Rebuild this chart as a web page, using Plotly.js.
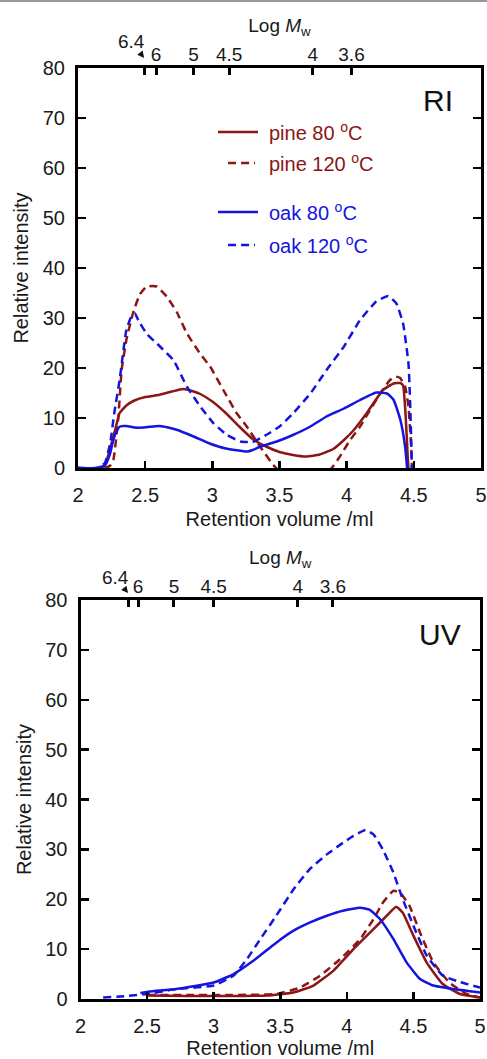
<!DOCTYPE html>
<html><head><meta charset="utf-8">
<script src="https://cdn.plot.ly/plotly-3.0.1.min.js"></script>
<style>html,body{margin:0;padding:0;background:#fff;}#chart{width:487px;height:1059px;}</style>
</head><body><div id="chart"></div>
<script>
// ---------- RI panel data ----------
const riPine80X = [2.0,2.15,2.2,2.24,2.28,2.31,2.36,2.42,2.5,2.6,2.7,2.78,2.85,2.91,3.0,3.1,3.2,3.3,3.4,3.5,3.6,3.7,3.8,3.9,3.98,4.05,4.15,4.27,4.35,4.4,4.42,4.44,4.455,4.46];
const riPine80Y = [0,0,0.5,4,8,11,12.5,13.5,14.2,14.6,15.3,15.8,15.4,14.8,13.3,11,8.3,5.8,4.3,3.2,2.6,2.3,2.7,3.8,5.6,7.5,11,15.6,16.9,17,16.5,10,2,0];

const riPine120X = [2.0,2.2,2.24,2.263,2.3,2.325,2.363,2.413,2.46,2.51,2.586,2.66,2.735,2.809,2.908,2.983,3.082,3.18,3.256,3.355,3.454,3.55,3.7,3.85,3.889,3.95,4.025,4.1,4.174,4.249,4.323,4.36,4.398,4.435,4.46,4.48,4.487];
const riPine120Y = [0,0,0.5,1.6,10,19.7,26,31.3,34.7,36.3,36.3,34.3,31.2,27,22.9,20.3,15.6,11,8.3,4.3,0.6,-2,-3,-1,0,2.3,5.6,8.3,11.6,14.9,17.6,18.3,18,16.3,12.3,4.3,0];

const riOak80X = [2.0,2.13,2.2,2.24,2.263,2.29,2.313,2.36,2.42,2.49,2.56,2.61,2.67,2.74,2.86,2.98,3.1,3.26,3.3,3.36,3.48,3.6,3.73,3.85,3.98,4.1,4.22,4.3,4.35,4.4,4.435,4.45];
const riOak80Y = [0,0,0.5,3,5.6,7.5,8.3,8.4,8.1,8.1,8.3,8.4,8.1,7.6,6.3,4.9,3.9,3.3,3.6,4.3,5.3,6.6,8.3,10.3,11.9,13.6,15.1,14.9,13.6,9.6,4.3,0];

const riOak120X = [2.0,2.15,2.2,2.24,2.27,2.31,2.36,2.4,2.424,2.45,2.51,2.61,2.71,2.81,2.91,3.01,3.11,3.21,3.3,3.4,3.5,3.6,3.73,3.85,3.98,4.1,4.22,4.31,4.37,4.42,4.46,4.47,4.48,4.485];
const riOak120Y = [0,0,1,5,11,17.6,27.6,30.5,30.9,29.5,26.9,24.3,21.6,16.3,12.3,8.9,6.6,5.3,5.2,6.6,8.3,10.9,14.9,19.6,24.3,29.6,33.3,34.4,32.9,28.9,20.9,15,6,0];

// ---------- UV panel data ----------
const uvPine80X = [2.5,2.8,3.1,3.4,3.6,3.75,3.9,4.05,4.2,4.3,4.37,4.42,4.5,4.6,4.72,4.85,5.0];
const uvPine80Y = [0.7,0.6,0.6,0.7,1.3,2.7,5.7,10,14,16.7,18.5,17.3,12.7,7.3,3,1,0.3];

const uvPine120X = [2.5,2.8,3.1,3.47,3.65,3.8,3.95,4.1,4.2,4.27,4.35,4.4,4.47,4.55,4.65,4.77,4.9,5.0];
const uvPine120Y = [0.8,0.8,0.8,1,2.3,4.7,8,12,16,19.3,21.7,21.3,18.7,13.3,7.3,3.3,1,0.3];

const uvOak80X = [2.45,2.52,2.72,3.0,3.15,3.3,3.47,3.6,3.72,3.85,3.97,4.1,4.17,4.25,4.35,4.45,4.55,4.65,4.8,5.0];
const uvOak80Y = [1.2,1.5,2,3.3,5,7.7,11.3,13.7,15.3,16.7,17.7,18.3,17.9,16,12,7.3,4,2.7,2,1.3];

const uvOak120X = [2.17,2.35,2.5,2.72,3.0,3.15,3.25,3.35,3.47,3.6,3.72,3.85,3.97,4.05,4.14,4.2,4.27,4.35,4.42,4.5,4.6,4.72,4.85,5.0];
const uvOak120Y = [0.3,0.6,1,2,2.7,4.7,8,12,16.7,22,26,29,31.3,32.7,33.9,33,30,25.3,20,14.7,8.7,4.7,3.4,2.3];

// ---------- ticks ----------
const xTickVals = [2,2.5,3,3.5,4,4.5,5];
const xTickText = ['2','2.5','3','3.5','4','4.5','5'];
const yTickVals = [0,10,20,30,40,50,60,70,80];
const mwTickText = ['','6','5','4.5','4','3.6'];
const mwTickPosRI = [2.492,2.581,2.86,3.125,3.747,4.036];
const mwTickPosUV = [2.357,2.432,2.702,3.0,3.632,3.895];

const seriesNames = ['pine 80 <sup>o</sup>C','pine 120 <sup>o</sup>C','oak 80 <sup>o</sup>C','oak 120 <sup>o</sup>C'];

const RED = '#8b1616';
const BLUE = '#1414e0';
const FONT = 'Liberation Sans, Arial, sans-serif';
const W = 487, H = 1059;

function tr(x, y, color, dash, xa, ya) {
  return {x: x, y: y, type: 'scatter', mode: 'lines', xaxis: xa, yaxis: ya,
    line: {color: color, width: 2.5, dash: dash, shape: 'spline', smoothing: 0.4},
    hoverinfo: 'skip', showlegend: false};
}
const DASH = '8px,5px';
const data = [
  tr(riPine80X, riPine80Y, RED, 'solid', 'x', 'y'),
  tr(riPine120X, riPine120Y, RED, DASH, 'x', 'y'),
  tr(riOak80X, riOak80Y, BLUE, 'solid', 'x', 'y'),
  tr(riOak120X, riOak120Y, BLUE, DASH, 'x', 'y'),
  tr(uvPine80X, uvPine80Y, RED, 'solid', 'x2', 'y2'),
  tr(uvPine120X, uvPine120Y, RED, DASH, 'x2', 'y2'),
  tr(uvOak80X, uvOak80Y, BLUE, 'solid', 'x2', 'y2'),
  tr(uvOak120X, uvOak120Y, BLUE, DASH, 'x2', 'y2')
];

const tickFont = {family: FONT, size: 20, color: '#1a1a1a'};
const base = {showgrid: false, zeroline: false, showline: true, linecolor: '#000', linewidth: 3,
  ticks: 'inside', ticklen: 7, tickwidth: 2.5, tickcolor: '#000', tickfont: tickFont, fixedrange: true};

function px2fx(p) { return p / W; }
function py2fy(p) { return 1 - p / H; }

const d1x = [px2fx(78), px2fx(481)], d1y = [py2fy(468), py2fy(68)];
const d2x = [px2fx(80.5), px2fx(480)], d2y = [py2fy(999), py2fy(600)];

function xBottom(dom, anchor) {
  return Object.assign({}, base, {domain: dom, anchor: anchor, range: [2, 5], tickmode: 'array',
    tickvals: xTickVals, ticktext: xTickText, mirror: true, ticklabelstandoff: 7,
    title: {text: 'Retention volume /ml', font: {family: FONT, size: 20, color: '#1a1a1a'}, standoff: 7}});
}
function yLeft(dom, anchor) {
  return Object.assign({}, base, {domain: dom, anchor: anchor, range: [0, 80], tickmode: 'array',
    tickvals: yTickVals, ticklen: 8, mirror: 'ticks', ticklabelstandoff: 6,
    title: {text: 'Relative intensity', font: {family: FONT, size: 20, color: '#1a1a1a'}, standoff: 9}});
}
function xTop(over, anchor, pos) {
  return Object.assign({}, base, {overlaying: over, side: 'top', anchor: anchor, range: [2, 5],
    tickmode: 'array', tickvals: pos, ticktext: mwTickText, showline: false, tickwidth: 3, ticklen: 7,
    ticklabelstandoff: 2, tickfont: {family: FONT, size: 19, color: '#1a1a1a'},
    title: {text: 'Log <i>M</i><sub>w</sub>', font: {family: FONT, size: 19, color: '#1a1a1a'}, standoff: 6}});
}

function legendAnn(i, yv, color) {
  return {xref: 'x', yref: 'y', x: 3.407, y: yv, text: seriesNames[i], showarrow: false,
    xanchor: 'left', yanchor: 'middle', font: {family: FONT, size: 20, color: color}};
}
function legendLine(x0, x1, yv, color, dash) {
  return {type: 'line', xref: 'x', yref: 'y', x0: x0, x1: x1, y0: yv, y1: yv,
    line: {color: color, width: 2.5, dash: dash}};
}

const layout = {
  width: W, height: H, margin: {l: 0, r: 0, t: 0, b: 0},
  paper_bgcolor: '#fff', plot_bgcolor: '#fff', showlegend: false,
  font: {family: FONT, color: '#1a1a1a'},
  xaxis: xBottom(d1x, 'y'),
  yaxis: yLeft(d1y, 'x'),
  xaxis2: xBottom(d2x, 'y2'),
  yaxis2: yLeft(d2y, 'x2'),
  xaxis3: xTop('x', 'y', mwTickPosRI),
  xaxis4: xTop('x2', 'y2', mwTickPosUV),
  shapes: [
    {type: 'line', xref: 'paper', yref: 'paper', x0: 0, x1: 1, y0: py2fy(1), y1: py2fy(1), line: {color: '#9a9a9a', width: 2}},
    legendLine(3.042, 3.340, 67.2, RED, 'solid'),
    legendLine(3.117, 3.318, 61.0, RED, DASH),
    legendLine(3.042, 3.340, 51.2, BLUE, 'solid'),
    legendLine(3.117, 3.318, 44.6, BLUE, DASH)
  ],
  annotations: [
    legendAnn(0, 67.2, RED), legendAnn(1, 61.0, RED), legendAnn(2, 51.2, BLUE), legendAnn(3, 44.6, BLUE),
    {xref: 'paper', yref: 'paper', x: px2fx(438), y: py2fy(101), text: 'RI', showarrow: false,
      font: {family: FONT, size: 30, color: '#111'}, xanchor: 'center', yanchor: 'middle'},
    {xref: 'paper', yref: 'paper', x: px2fx(440), y: py2fy(634), text: 'UV', showarrow: false,
      font: {family: FONT, size: 30, color: '#111'}, xanchor: 'center', yanchor: 'middle'},
    {xref: 'x3', yref: 'paper', x: mwTickPosRI[0], y: py2fy(58), text: '6.4', showarrow: true,
      ax: -13, ay: -17, arrowhead: 2, arrowsize: 0.9, arrowwidth: 1.5, arrowcolor: '#111', standoff: 0,
      font: {family: FONT, size: 19, color: '#1a1a1a'}},
    {xref: 'x4', yref: 'paper', x: mwTickPosUV[0], y: py2fy(593), text: '6.4', showarrow: true,
      ax: -13, ay: -16, arrowhead: 2, arrowsize: 0.9, arrowwidth: 1.5, arrowcolor: '#111', standoff: 0,
      font: {family: FONT, size: 19, color: '#1a1a1a'}}
  ]
};

Plotly.newPlot('chart', data, layout, {staticPlot: true, displayModeBar: false});
</script></body></html>
